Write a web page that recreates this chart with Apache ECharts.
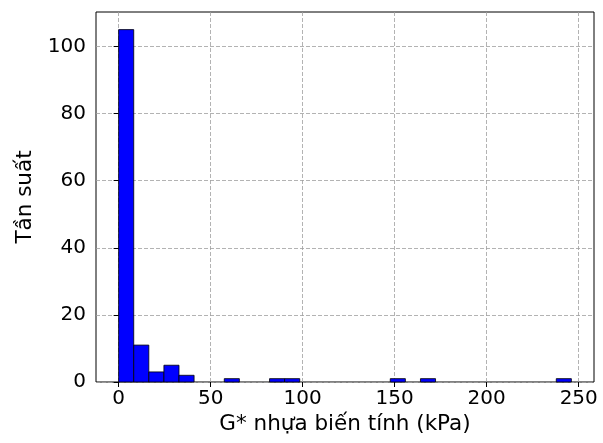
<!DOCTYPE html>
<html>
<head>
<meta charset="utf-8">
<script src="https://cdn.jsdelivr.net/npm/echarts@6/dist/echarts.min.js"></script>
<style>html,body{margin:0;padding:0;background:#fff}#c{width:603px;height:443px}</style>
</head>
<body>
<div id="c"></div>
<script>
// Histogram data (30 bins)
var binStart = 0.0;
var binWidth = 8.2;
var counts = [105, 11, 3, 5, 2, 0, 0, 1, 0, 0, 1, 1, 0, 0, 0, 0, 0, 0, 1, 0, 1, 0, 0, 0, 0, 0, 0, 0, 0, 1];
var xTicks = [0, 50, 100, 150, 200, 250];
var yTicks = [0, 20, 40, 60, 80, 100];
var xTitle = 'G* nhựa biến tính (kPa)';
var yTitle = 'Tần suất';

var data = counts.map(function (c, i) {
  var s = binStart + i * binWidth;
  return [s, s + binWidth, c];
}).filter(function (d) { return d[2] > 0; });

var font = 'DejaVu Sans';
var fs = 20;
var fsTitle = 21.5;
var chart = echarts.init(document.getElementById('c'), null, {renderer: 'canvas'});
chart.setOption({
  animation: false,
  grid: {left: 96, right: 9, top: 12, bottom: 61, show: true, borderColor: '#000', borderWidth: 1, backgroundColor: 'transparent'},
  xAxis: {
    type: 'value', min: -12.3, max: 258.3,
    name: xTitle, nameLocation: 'middle', nameGap: 29,
    nameTextStyle: {fontFamily: font, fontSize: fsTitle, color: '#000'},
    axisLine: {show: false},
    axisTick: {show: true, length: 5, lineStyle: {color: '#000'}, customValues: xTicks},
    axisLabel: {customValues: xTicks, fontFamily: font, fontSize: fs, color: '#000', margin: 7},
    splitLine: {show: true, lineStyle: {color: '#a0a0a0', type: [4, 2], width: 0.8}}
  },
  yAxis: {
    type: 'value', min: 0, max: 110.25,
    name: yTitle, nameLocation: 'middle', nameGap: 60,
    nameTextStyle: {fontFamily: font, fontSize: fsTitle, color: '#000'},
    axisLine: {show: false},
    axisTick: {show: true, length: 5, lineStyle: {color: '#000'}, customValues: yTicks},
    axisLabel: {customValues: yTicks, fontFamily: font, fontSize: fs, color: '#000', margin: 10},
    splitLine: {show: true, lineStyle: {color: '#a0a0a0', type: [4, 2], width: 0.8}}
  },
  series: [{
    type: 'custom',
    data: data,
    encode: {x: [0, 1], y: 2},
    renderItem: function (params, api) {
      var p0 = api.coord([api.value(0), api.value(2)]);
      var p1 = api.coord([api.value(1), 0]);
      return {
        type: 'rect',
        shape: {x: p0[0], y: p0[1], width: p1[0] - p0[0], height: p1[1] - p0[1]},
        style: {fill: '#0000ff', stroke: '#000', lineWidth: 0.8}
      };
    }
  }]
});
</script>
</body>
</html>
